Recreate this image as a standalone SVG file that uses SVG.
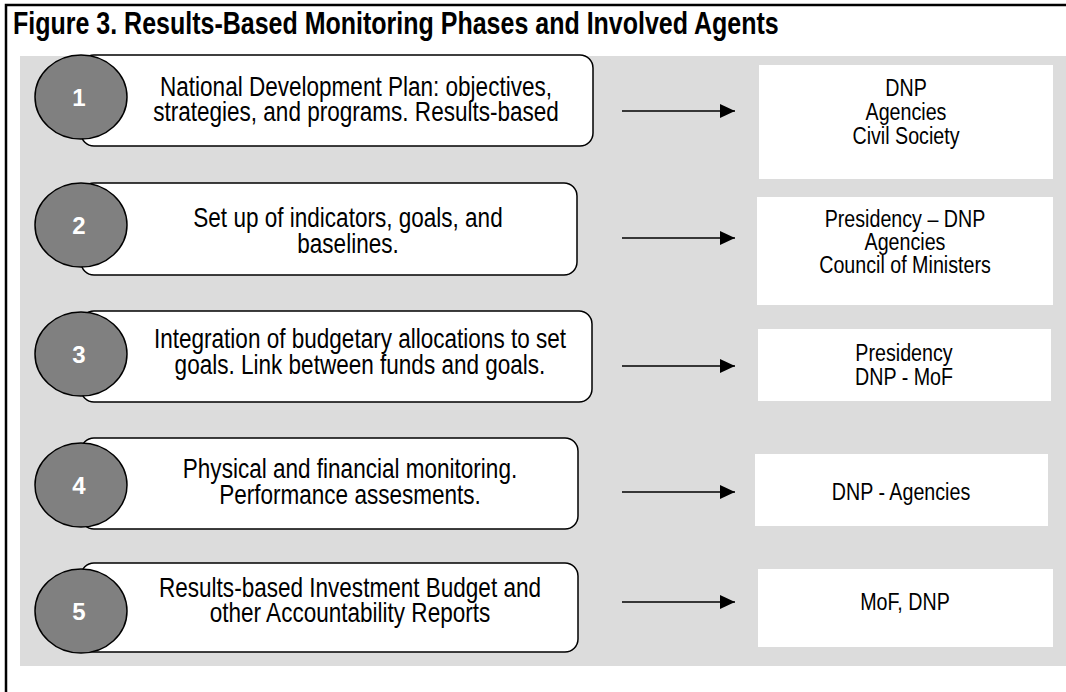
<svg xmlns="http://www.w3.org/2000/svg" width="1066" height="692" viewBox="0 0 1066 692">
<defs>
<style>
.frame{fill:none;stroke:#000;stroke-width:2.5}
.bg{fill:#dcdcdc}
.phase{fill:#fff;stroke:#000;stroke-width:1.5}
.circ{fill:#808080;stroke:#000;stroke-width:1.5}
.num{font-family:"Liberation Sans",Arial,sans-serif;font-weight:bold;font-size:24px;fill:#fff;text-anchor:middle}
.txt{font-family:"Liberation Sans",Arial,sans-serif;font-size:27.5px;fill:#000;text-anchor:middle}
.atxt{font-family:"Liberation Sans",Arial,sans-serif;font-size:24px;fill:#000;text-anchor:middle}
.title{font-family:"Liberation Sans",Arial,sans-serif;font-weight:bold;font-size:30.5px;fill:#000}
.agent{fill:#fff}
.conn{stroke:#000;stroke-width:1.5;fill:none}
</style>
<marker id="ah" markerWidth="15" markerHeight="14" refX="15" refY="7" orient="auto" markerUnits="userSpaceOnUse">
<path d="M0,0 L15,7 L0,14 Z" fill="#000"/>
</marker>
</defs>
<rect width="1066" height="692" fill="#fff"/>
<path class="frame" d="M6,692 V5 H1066"/>
<text class="title" transform="translate(13,34) scale(0.82,1)">Figure 3. Results-Based Monitoring Phases and Involved Agents</text>
<rect class="bg" x="20" y="56" width="1046" height="610"/>

<g id="phase1">
<rect class="phase" x="81" y="55" width="512" height="91" rx="13"/>
<ellipse class="circ" cx="81" cy="97" rx="46" ry="42"/>
<text class="num" x="79" y="106">1</text>
<text class="txt" transform="translate(356,96) scale(0.82,1)">National Development Plan: objectives,</text>
<text class="txt" transform="translate(356,121) scale(0.82,1)">strategies, and programs. Results-based</text>
</g>
<g id="phase2">
<rect class="phase" x="81" y="183" width="496" height="92" rx="13"/>
<ellipse class="circ" cx="81" cy="225" rx="46" ry="42"/>
<text class="num" x="79" y="234">2</text>
<text class="txt" transform="translate(348,227) scale(0.82,1)">Set up of indicators, goals, and</text>
<text class="txt" transform="translate(348,253) scale(0.82,1)">baselines.</text>
</g>
<g id="phase3">
<rect class="phase" x="81" y="311" width="511" height="91" rx="13"/>
<ellipse class="circ" cx="81" cy="354" rx="46" ry="42"/>
<text class="num" x="79" y="363">3</text>
<text class="txt" transform="translate(360,348) scale(0.82,1)">Integration of budgetary allocations to set</text>
<text class="txt" transform="translate(360,374) scale(0.82,1)">goals. Link between funds and goals.</text>
</g>
<g id="phase4">
<rect class="phase" x="81" y="438" width="497" height="91" rx="13"/>
<ellipse class="circ" cx="81" cy="485" rx="46" ry="42"/>
<text class="num" x="79" y="494">4</text>
<text class="txt" transform="translate(350,478) scale(0.82,1)">Physical and financial monitoring.</text>
<text class="txt" transform="translate(350,504) scale(0.82,1)">Performance assesments.</text>
</g>
<g id="phase5">
<rect class="phase" x="81" y="563" width="497" height="89" rx="13"/>
<ellipse class="circ" cx="81" cy="611" rx="46" ry="42"/>
<text class="num" x="79" y="620">5</text>
<text class="txt" transform="translate(350,597) scale(0.82,1)">Results-based Investment Budget and</text>
<text class="txt" transform="translate(350,622) scale(0.82,1)">other Accountability Reports</text>
</g>

<g id="agents1">
<rect class="agent" x="759" y="65" width="294" height="114"/>
<text class="atxt" transform="translate(906,96) scale(0.82,1)">DNP</text>
<text class="atxt" transform="translate(906,120) scale(0.82,1)">Agencies</text>
<text class="atxt" transform="translate(906,144) scale(0.82,1)">Civil Society</text>
</g>
<g id="agents2">
<rect class="agent" x="757" y="197" width="296" height="108"/>
<text class="atxt" transform="translate(905,227) scale(0.82,1)">Presidency – DNP</text>
<text class="atxt" transform="translate(905,250) scale(0.82,1)">Agencies</text>
<text class="atxt" transform="translate(905,273) scale(0.82,1)">Council of Ministers</text>
</g>
<g id="agents3">
<rect class="agent" x="758" y="329" width="293" height="72"/>
<text class="atxt" transform="translate(904,361) scale(0.82,1)">Presidency</text>
<text class="atxt" transform="translate(904,385) scale(0.82,1)">DNP - MoF</text>
</g>
<g id="agents4">
<rect class="agent" x="755" y="454" width="293" height="72"/>
<text class="atxt" transform="translate(901,500) scale(0.82,1)">DNP - Agencies</text>
</g>
<g id="agents5">
<rect class="agent" x="758" y="569" width="295" height="78"/>
<text class="atxt" transform="translate(905,610) scale(0.82,1)">MoF, DNP</text>
</g>

<g id="connectors">
<line class="conn" x1="622" y1="111" x2="735" y2="111" marker-end="url(#ah)"/>
<line class="conn" x1="622" y1="238" x2="735" y2="238" marker-end="url(#ah)"/>
<line class="conn" x1="622" y1="366" x2="735" y2="366" marker-end="url(#ah)"/>
<line class="conn" x1="622" y1="492" x2="735" y2="492" marker-end="url(#ah)"/>
<line class="conn" x1="622" y1="602" x2="735" y2="602" marker-end="url(#ah)"/>
</g>
</svg>
